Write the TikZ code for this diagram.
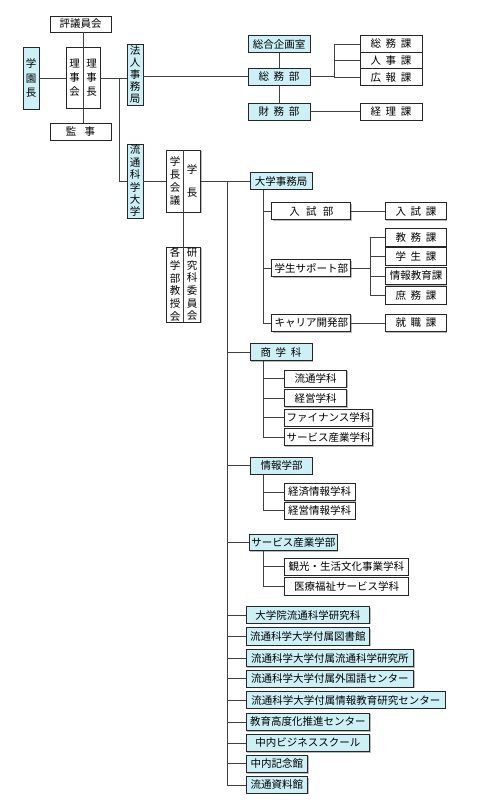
\documentclass[tikz,border=0pt]{standalone}
\usepackage{fontspec}
\setmainfont{Noto Sans CJK JP}
\usetikzlibrary{shadows}

\definecolor{officeblue}{RGB}{204,240,245}

\tikzset{
  unit/.style={draw=black!85, line width=0.8pt, fill=white, inner sep=0pt,
    font=\fontsize{10.5}{12}\selectfont,
    drop shadow={shadow xshift=0.9pt, shadow yshift=-0.9pt, fill=black!45, opacity=0.6}},
  office/.style={unit, fill=officeblue},
  sz/.style 2 args={minimum width=#1, minimum height=#2},
  vstack/.style={align=center, inner sep=0pt, font=\fontsize{10.5}{#1}\selectfont},
  link/.style={draw=black!75, line width=0.8pt},
}
\newcommand{\gap}{\hspace{0.45em}}

\begin{document}
\begin{tikzpicture}[x=1pt, y=-1pt]

\useasboundingbox (0,0) rectangle (489,800);

% Board
\node[unit, sz={61}{16}] (hyogi) at (80.5,24) {評議員会};
\node[office, vstack=14.5, sz={16}{62}] (gakuen) at (31,78) {学\\園\\長};
\node[unit, sz={34}{61}] (riji) at (83,78) {};
\node[vstack=14] (rijikai) at ([xshift=-8.5]riji.center) {理\\事\\会};
\node[vstack=14] (rijicho) at ([xshift=8.5]riji.center) {理\\事\\長};
\node[unit, sz={61}{17}] (kanji) at (80.5,131.5) {監\hspace{0.8em}事};
\node[office, vstack=12.2, sz={16}{61}] (houjin) at (135,74.5) {法\\人\\事\\務\\局};
\node[office, vstack=12.4, sz={16}{74}] (ryutsu) at (135,181) {流\\通\\科\\学\\大\\学};

% President
\node[unit, sz={34}{62}] (gakucho) at (183.7,181) {};
\node[vstack=13] (kaigi) at ([xshift=-8.5]gakucho.center) {学\\長\\会\\議};
\node[vstack=13] (cho) at ([xshift=8.5]gakucho.center) {学\\[10pt]長};
\node[unit, sz={34}{75}] (kyoju) at (183.7,284.5) {};
\node[vstack=12.7] (kyojukai) at ([xshift=-8.5]kyoju.center) {各\\学\\部\\教\\授\\会};
\node[vstack=12.7] (iinkai) at ([xshift=8.5]kyoju.center) {研\\究\\科\\委\\員\\会};

% Corporate office
\node[office, sz={62}{17}] (sogo) at (279,44) {総合企画室};
\node[office, sz={62}{17.5}] (somu) at (279,76.8) {総\gap 務\gap 部};
\node[office, sz={62}{17}] (zaimu) at (279,111.7) {財\gap 務\gap 部};
\node[unit, sz={62}{16.6}] (somuka) at (391,44) {総\gap 務\gap 課};
\node[unit, sz={62}{16.6}] (jinji) at (391,60.6) {人\gap 事\gap 課};
\node[unit, sz={62}{16.6}] (koho) at (391,77.2) {広\gap 報\gap 課};
\node[unit, sz={62}{17}] (keiri) at (391,111.7) {経\gap 理\gap 課};

% University office
\node[office, sz={62}{16.5}] (jimu) at (281,181) {大学事務局};
\node[unit, sz={79}{17}] (nyushi) at (311.3,211.3) {入\hspace{0.6em}試\hspace{0.6em}部};
\node[unit, sz={61}{17}] (nyushika) at (416,211.3) {入\gap 試\gap 課};
\node[unit, sz={79}{17}] (gakusei) at (311.3,268.3) {学生サポート部};
\node[unit, sz={61}{17.5}] (kyomu) at (416,237.2) {教\gap 務\gap 課};
\node[unit, sz={61}{17.5}] (gakuseika) at (416,256.3) {学\gap 生\gap 課};
\node[unit, sz={61}{17.5}] (johoka) at (416,276) {情報教育課};
\node[unit, sz={61}{17.5}] (shomu) at (416,295.5) {庶\gap 務\gap 課};
\node[unit, sz={79}{17.5}] (career) at (311.3,323) {キャリア開発部};
\node[unit, sz={61}{17.5}] (shushoku) at (416,323) {就\gap 職\gap 課};

% Faculties
\node[office, sz={62}{17.5}] (shogaku) at (281,352) {商\gap 学\gap 科};
\node[unit, sz={62.4}{17.3}] (ryutsugk) at (315.5,378.7) {流通学科};
\node[unit, sz={62.4}{17.3}] (keiei) at (315.5,398) {経営学科};
\node[unit, sz={88.4}{17.5}] (finance) at (328.5,417.8) {ファイナンス学科};
\node[unit, sz={88.4}{17.3}] (service) at (328.5,437) {サービス産業学科};
\node[office, sz={62}{17}] (joho) at (281.5,465.8) {情報学部};
\node[unit, sz={70.7}{17.3}] (keizaijoho) at (319.7,492) {経済情報学科};
\node[unit, sz={70.7}{17}] (keieijoho) at (319.7,510.8) {経営情報学科};
\node[office, sz={88}{16.7}] (servicegb) at (293.3,542.3) {サービス産業学部};
\node[unit, sz={124}{16.7}] (kanko) at (346.3,566.7) {観光・生活文化事業学科};
\node[unit, sz={123.3}{17.3}] (iryo) at (346.5,586.3) {医療福祉サービス学科};

% Affiliated units
\node[office, anchor=west, sz={123.6}{16.6}] (daigakuin) at (245.7,615) {大学院流通科学研究科};
\node[office, anchor=west, sz={123.6}{17.3}] (tosho) at (245.7,636.3) {流通科学大学付属図書館};
\node[office, anchor=west, sz={167.6}{17.4}] (kenkyujo) at (245.7,658) {流通科学大学付属流通科学研究所};
\node[office, anchor=west, sz={167.6}{17.3}] (gaikokugo) at (245.7,678.7) {流通科学大学付属外国語センター};
\node[office, anchor=west, sz={199.3}{16.6}] (johokyoiku) at (245.7,700) {流通科学大学付属情報教育研究センター};
\node[office, anchor=west, sz={123.6}{17.4}] (kodoka) at (245.7,722) {教育高度化推進センター};
\node[office, anchor=west, sz={123.6}{17.4}] (business) at (245.7,743) {中内ビジネススクール};
\node[office, anchor=west, sz={61.6}{17.7}] (kinenkan) at (245.7,763.8) {中内記念館};
\node[office, anchor=west, sz={61.6}{16.6}] (shiryokan) at (245.7,785) {流通資料館};

% Board links
\draw[link] (gakuen.east) -- (gakuen.east -| riji.west);
\draw[link] (hyogi.south -| riji.north) -- (kanji.north -| riji.south);
\draw[link] (riji.east) -- (riji.east -| houjin.west);
\coordinate (corp) at (119,78);
\draw[link] (corp) |- (ryutsu.west);

% Corporate office links
\draw[link] (houjin.east |- somu.west) -- (somu.west);
\draw[link] (sogo.south) -- (somu.north);
\draw[link] (somu.south) -- (zaimu.north);
\coordinate (somubr) at (334,76.8);
\draw[link] (somu.east) -- (somubr);
\draw[link] (somubr |- somuka.west) -- (somubr |- koho.west);
\foreach \n in {somuka,jinji,koho}
  \draw[link] (somubr |- \n.west) -- (\n.west);
\draw[link] (zaimu.east) -- (keiri.west);

% University links
\draw[link] (ryutsu.east) -- (gakucho.west);
\draw[link] (gakucho.east) -- (jimu.west);
\draw[link] (gakucho.north) -- (kyoju.south);
\coordinate (univ) at (227,181);
\draw[link] (univ) |- (shiryokan.west);
\foreach \n in {shogaku,joho,servicegb,daigakuin,tosho,kenkyujo,gaikokugo,johokyoiku,kodoka,business,kinenkan}
  \draw[link] (univ |- \n.west) -- (\n.west);

\coordinate (jimubr) at ([xshift=-17.5]jimu.south);
\draw[link] (jimubr) |- (career.west);
\foreach \n in {nyushi,gakusei}
  \draw[link] (jimubr |- \n.west) -- (\n.west);
\draw[link] (nyushi.east) -- (nyushika.west);
\coordinate (gakuseibr) at (370,268.3);
\draw[link] (gakusei.east) -- (gakuseibr);
\draw[link] (gakuseibr |- kyomu.west) -- (gakuseibr |- shomu.west);
\foreach \n in {kyomu,gakuseika,johoka,shomu}
  \draw[link] (gakuseibr |- \n.west) -- (\n.west);
\draw[link] (career.east) -- (shushoku.west);

% Faculty links
\coordinate (shogakubr) at ([xshift=-17.3]shogaku.south);
\draw[link] (shogakubr) |- (service.west);
\foreach \n in {ryutsugk,keiei,finance}
  \draw[link] (shogakubr |- \n.west) -- (\n.west);
\coordinate (johobr) at ([xshift=-17.8]joho.south);
\draw[link] (johobr) |- (keieijoho.west);
\draw[link] (johobr |- keizaijoho.west) -- (keizaijoho.west);
\coordinate (servicebr) at ([xshift=-29.6]servicegb.south);
\draw[link] (servicebr) |- (iryo.west);
\draw[link] (servicebr |- kanko.west) -- (kanko.west);

\end{tikzpicture}
\end{document}
